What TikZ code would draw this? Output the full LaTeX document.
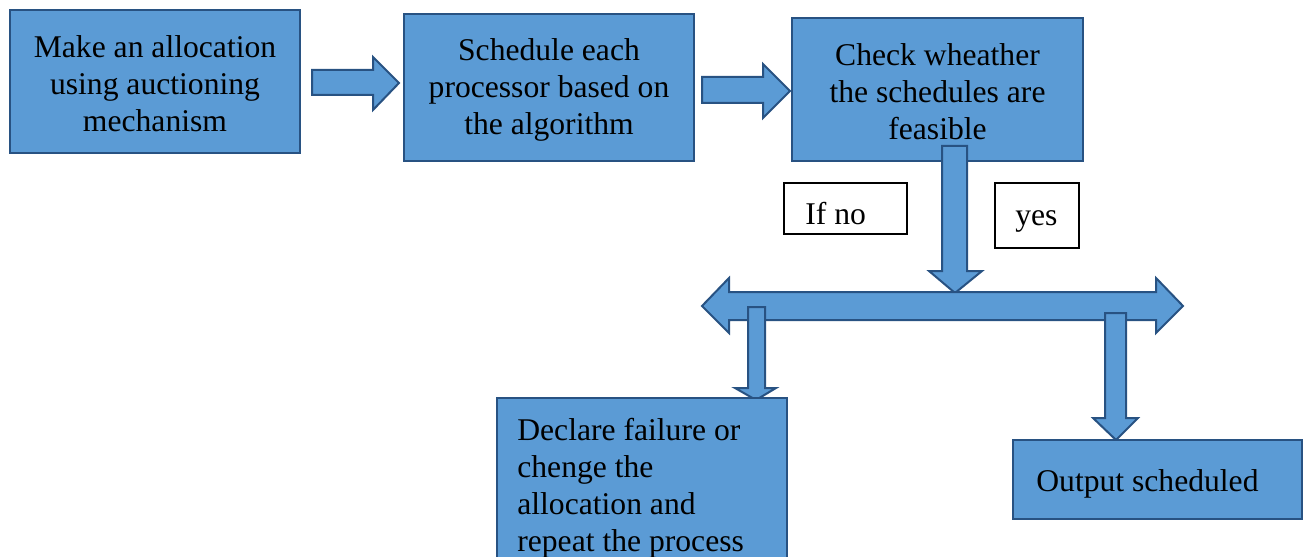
\documentclass[tikz,border=0pt]{standalone}
\usepackage{fontspec}
\setmainfont{Liberation Serif}
\definecolor{boxfill}{RGB}{91, 155, 213}
\definecolor{boxline}{RGB}{40, 82, 130}
\tikzset{
  blockbox/.style={draw=boxline, fill=boxfill, line width=0.04cm},
  labelbox/.style={draw=black, fill=white, line width=0.03cm},
  boxtext/.style={font=\fontsize{18}{21}\selectfont, align=center, inner sep=0pt}
}

\begin{document}
\begin{tikzpicture}[x=0.02cm, y=-0.02cm]
	\clip (0, 0) rectangle (1304, 557);
	% top row
	\filldraw [blockbox] (10, 10) rectangle (300, 153) node[midway, boxtext, yshift=-0.05cm] (alloc) {Make an allocation\\using auctioning\\mechanism};
	\filldraw [blockbox] (404, 14) rectangle (694, 161) node[midway, boxtext, yshift=-0.05cm] (sched) {Schedule each\\processor based on\\the algorithm};
	\filldraw [blockbox] (792, 18) rectangle (1083, 161) node[midway, boxtext, yshift=-0.05cm] (check) {Check wheather\\the schedules are\\feasible};
	\filldraw [blockbox] (312, 70) -- (373, 70) -- (373, 57) -- (399, 83) -- (373, 110) -- (373, 95) -- (312, 95) -- cycle;
	\filldraw [blockbox] (702, 77) -- (763, 77) -- (763, 64) -- (790, 91) -- (763, 118) -- (763, 103) -- (702, 103) -- cycle;
	% decision
	\filldraw [blockbox] (942, 146) -- (967, 146) -- (967, 271) -- (982, 271) -- (955, 293) -- (929, 271) -- (942, 271) -- cycle;
	\filldraw [labelbox] (784, 183) rectangle (907, 234);
	\node [boxtext, anchor=west] (ifno) at (805, 214) {If no};
	\filldraw [labelbox] (995, 183) rectangle (1079, 248);
	\node [boxtext, anchor=base west] (yes) at (1015, 225) {yes};
	\filldraw [blockbox] (702, 306) -- (729, 278) -- (729, 292) -- (1156, 292) -- (1156, 278) -- (1183, 306) -- (1156, 333) -- (1156, 320) -- (729, 320) -- (729, 333) -- cycle;
	\filldraw [blockbox] (748, 307) -- (765, 307) -- (765, 388) -- (776, 388) -- (756, 400) -- (735, 388) -- (748, 388) -- cycle;
	\filldraw [blockbox] (1105, 313) -- (1126, 313) -- (1126, 418) -- (1138, 418) -- (1116, 440) -- (1093, 418) -- (1105, 418) -- cycle;
	% results
	\filldraw [blockbox] (497, 398) rectangle (787, 600);
	\node [boxtext, align=left, anchor=north west] (fail) at (517, 418) {Declare failure or\\chenge the\\allocation and\\repeat the process};
	\filldraw [blockbox] (1013, 440) rectangle (1302, 519);
	\node [boxtext, anchor=base west] (output) at (1036, 491) {Output scheduled};
\end{tikzpicture}
\end{document}
